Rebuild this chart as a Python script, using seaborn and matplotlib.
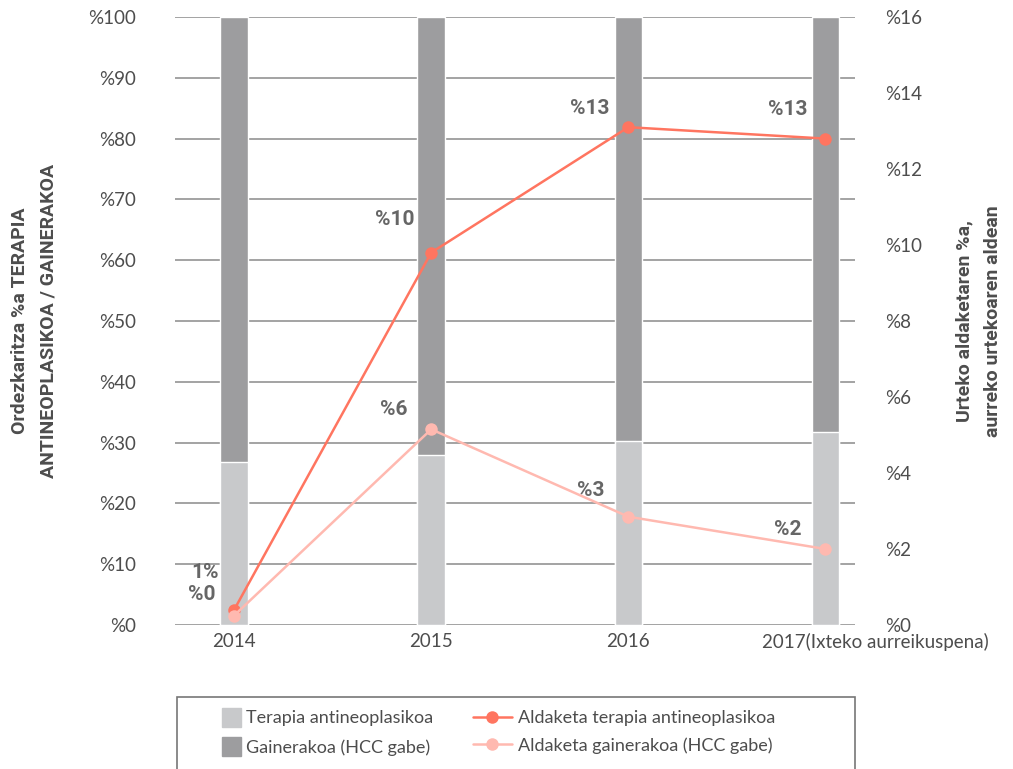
import matplotlib
matplotlib.use("Agg")
import matplotlib.pyplot as plt
import matplotlib.patches as mpatches
import matplotlib.transforms as mtransforms
from matplotlib.lines import Line2D
import seaborn as sns
import pandas as pd
import numpy as np

years = ["2014", "2015", "2016", "2017(Ixteko aurreikuspena)"]
share_antineo = [26.8, 28.0, 30.3, 31.7]
share_total = [100, 100, 100, 100]
change_antineo = [0.4, 9.8, 13.1, 12.8]
change_other = [0.25, 5.15, 2.85, 2.0]
labels_antineo = ["1%", "%10", "%13", "%13"]
labels_other = ["%0", "%6", "%3", "%2"]
left_ticks = [f"%{v}" for v in range(0, 101, 10)]
right_ticks = [f"%{v}" for v in range(0, 17, 2)]

C_LIGHT = "#c8c9cb"
C_DARK = "#9d9d9f"
C_L1 = "#ff7560"
C_L2 = "#ffb9b0"
TXT = "#4d4d4d"
BOLD_FAM = ["Roboto", "DejaVu Sans"]

sns.set_theme(style="white")
plt.rcParams["font.family"] = ["Lato", "DejaVu Sans"]

fig = plt.figure(figsize=(10.13, 7.69), dpi=100)
ax = fig.add_axes([175/1013, 1-625/769, (855-175)/1013, (625-17)/769])

df = pd.DataFrame({"year": years, "antineo": share_antineo, "total": share_total,
                   "ch1": change_antineo, "ch2": change_other})
df["pos"] = np.arange(len(years))

for v in range(0, 101, 10):
    ax.axhline(v, color="#8a8a8a", lw=1.1, zorder=0)

sns.barplot(data=df, x="year", y="total", color=C_DARK, width=0.14, ax=ax,
            saturation=1, zorder=2)
sns.barplot(data=df, x="year", y="antineo", color=C_LIGHT, width=0.14, ax=ax,
            saturation=1, zorder=3)
ax.set_xlim(-0.3, 3.15)
ax.set_ylim(0, 100)
ax.set_yticks(range(0, 101, 10))
ax.set_yticklabels(left_ticks)
ax.set_xlabel("")
ax.set_ylabel("Ordezkaritza %a TERAPIA\nANTINEOPLASIKOA / GAINERAKOA",
              fontsize=14, fontweight="bold", family=BOLD_FAM, color=TXT,
              labelpad=22, linespacing=1.75)
ax.tick_params(axis="y", length=0, pad=28, labelsize=13.5, labelcolor=TXT)
ax.tick_params(axis="x", length=0, pad=6, labelsize=13.5, labelcolor=TXT)
for s in ax.spines.values():
    s.set_visible(False)
# shift the long last year label to the right, as in the original
last = ax.get_xticklabels()[-1]
last.set_transform(last.get_transform() + mtransforms.ScaledTranslation(50/100, 0, fig.dpi_scale_trans))

ax2 = ax.twinx()
sns.lineplot(data=df, x="pos", y="ch1", color=C_L1, lw=1.8, marker="o",
             markersize=9, markeredgewidth=0, ax=ax2, zorder=5)
sns.lineplot(data=df, x="pos", y="ch2", color=C_L2, lw=1.8, marker="o",
             markersize=9, markeredgewidth=0, ax=ax2, zorder=6)
ax2.set_ylim(0, 16)
ax2.set_yticks(range(0, 17, 2))
ax2.set_yticklabels(right_ticks)
ax2.set_xlim(-0.3, 3.15)
ax2.set_xlabel("")
ax2.set_ylabel("Urteko aldaketaren %a,\naurreko urtekoaren aldean",
               fontsize=14, fontweight="bold", family=BOLD_FAM, color=TXT,
               labelpad=24, linespacing=1.75)
ax2.tick_params(axis="y", length=0, pad=22, labelsize=13.5, labelcolor=TXT)
for s in ax2.spines.values():
    s.set_visible(False)

# data labels
offs1 = [(-21, 27), (-26, 24), (-28, 13.5), (-27, 21)]
offs2 = [(-23, 15), (-27, 14), (-27, 19), (-27, 14)]
for i in range(len(years)):
    ax2.annotate(labels_antineo[i], (df["pos"][i], change_antineo[i]),
                 xytext=offs1[i], textcoords="offset points", ha="center", va="center",
                 fontsize=15, fontweight="bold", family=BOLD_FAM, color="#666666")
    ax2.annotate(labels_other[i], (df["pos"][i], change_other[i]),
                 xytext=offs2[i], textcoords="offset points", ha="center", va="center",
                 fontsize=15, fontweight="bold", family=BOLD_FAM, color="#666666")

# legend box
fig.patches.append(mpatches.Rectangle((177/1013, -0.05), (855-177)/1013, 0.05 + 1-697/769,
                                      transform=fig.transFigure, fill=False,
                                      edgecolor="#777777", lw=1.2))
h_bars = [
    mpatches.Patch(color=C_LIGHT, label="Terapia antineoplasikoa"),
    mpatches.Patch(color=C_DARK, label="Gainerakoa (HCC gabe)"),
]
h_lines = [
    Line2D([], [], color=C_L1, lw=1.8, marker="o", markersize=9, markeredgewidth=0,
           label="Aldaketa terapia antineoplasikoa"),
    Line2D([], [], color=C_L2, lw=1.8, marker="o", markersize=9, markeredgewidth=0,
           label="Aldaketa gainerakoa (HCC gabe)"),
]
fig.legend(handles=h_bars, loc="center left",
           bbox_to_anchor=(222/1013, 1-732/769), frameon=False, borderpad=0,
           borderaxespad=0, fontsize=13, handlelength=1.05, handleheight=1.2,
           handletextpad=0.3, labelspacing=0.6, labelcolor=TXT)
fig.legend(handles=h_lines, loc="center left",
           bbox_to_anchor=(473/1013, 1-732/769), frameon=False, borderpad=0,
           borderaxespad=0, fontsize=13, handlelength=2.15,
           handletextpad=0.35, labelspacing=0.6, labelcolor=TXT)

fig.savefig("out.png", dpi=100)
